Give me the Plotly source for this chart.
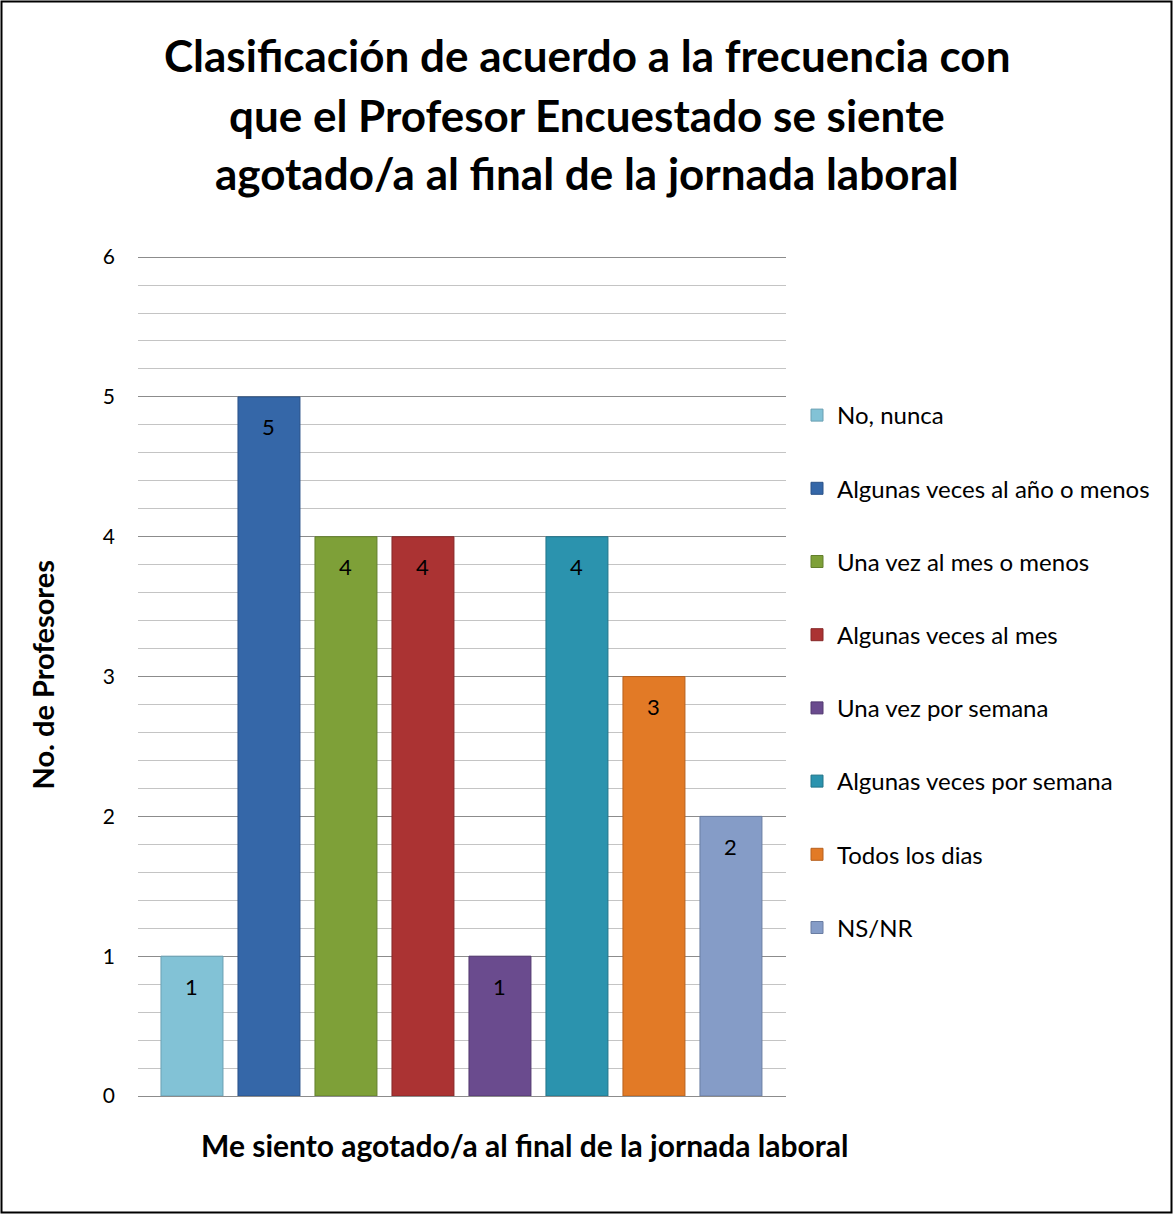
import plotly.graph_objects as go

# ---- data ----
categories = [
    "No, nunca",
    "Algunas veces al año o menos",
    "Una vez al mes o menos",
    "Algunas veces al mes",
    "Una vez por semana",
    "Algunas veces por semana",
    "Todos los dias",
    "NS/NR",
]
values = [1, 5, 4, 4, 1, 4, 3, 2]
colors = ["#82c2d6", "#3567a8", "#7ea038", "#ab3333", "#6a4b8e", "#2b93ae", "#e27a26", "#859cc7"]
edge_colors = ["#6a9fb2", "#2a5288", "#637f2c", "#862828", "#533a70", "#227489", "#b7611e", "#6a7da2"]
title_lines = [
    "Clasificación de acuerdo a la frecuencia con",
    "que el Profesor Encuestado se siente",
    "agotado/a al final de la jornada laboral",
]
x_title = "Me siento agotado/a al final de la jornada laboral"
y_title = "No. de Profesores"
y_ticks = [0, 1, 2, 3, 4, 5, 6]

FONT = "Lato, Carlito, Calibri, sans-serif"

fig = go.Figure()
for i, (cat, val) in enumerate(zip(categories, values)):
    fig.add_trace(go.Bar(
        x=[cat], y=[val], name=cat,
        marker=dict(color=colors[i], line=dict(color=edge_colors[i], width=1)),
        legendgroup=cat,
        showlegend=True,
    ))

# data labels near top of each bar
for cat, val in zip(categories, values):
    fig.add_annotation(x=cat, y=val, xref="x", yref="y", text=str(val),
                       showarrow=False, yshift=-30,
                       font=dict(family=FONT, size=22, color="#000000"))

W, H = 1173, 1214
L, R, T, B = 138, 1173 - 786, 255, 1214 - 1096
pw, ph = W - L - R, H - T - B

def px(xp):
    return (xp - L) / pw

def py(yp):
    return (H - B - yp) / ph

title_y = [55, 115, 173]
for line, yy in zip(title_lines, title_y):
    fig.add_annotation(x=px(587), y=py(yy), xref="paper", yref="paper", text="<b>" + line + "</b>",
                       showarrow=False, xanchor="center", yanchor="middle",
                       font=dict(family=FONT, size=44, color="#000000"))

fig.add_annotation(x=px(524), y=py(1145), xref="paper", yref="paper", text="<b>" + x_title + "</b>",
                   showarrow=False, xanchor="center", yanchor="middle",
                   font=dict(family=FONT, size=30, color="#000000"))
fig.add_annotation(x=px(42), y=0.5, xref="paper", yref="paper", text="<b>" + y_title + "</b>",
                   showarrow=False, xanchor="center", yanchor="middle", textangle=-90,
                   font=dict(family=FONT, size=29, color="#000000"))

fig.add_shape(type="rect", xref="paper", yref="paper",
              x0=px(1.5), x1=px(W - 1.5), y0=py(H - 1.5), y1=py(1.5),
              line=dict(color="#000000", width=2), fillcolor="rgba(0,0,0,0)", layer="above")

fig.update_layout(
    width=W, height=H,
    margin=dict(l=L, r=R, t=T, b=B, autoexpand=False),
    paper_bgcolor="#ffffff", plot_bgcolor="#ffffff",
    barmode="overlay", bargap=0.195,
    font=dict(family=FONT, size=20, color="#000000"),
    showlegend=True,
    legend=dict(x=px(797), y=py(393), xanchor="left", yanchor="top",
                font=dict(family=FONT, size=24, color="#000000"),
                tracegroupgap=39, itemwidth=30, bgcolor="rgba(0,0,0,0)"),
    xaxis=dict(range=[-0.701, 7.715], showticklabels=False, showgrid=False, zeroline=False,
               showline=True, linecolor="#8c8c8c", linewidth=1, ticks=""),
    yaxis=dict(range=[0, 6.015], tickvals=y_ticks, showgrid=True, gridcolor="#8c8c8c", gridwidth=1,
               zeroline=False, showline=False, ticks="", ticklabelstandoff=22,
               tickfont=dict(family=FONT, size=21, color="#000000"),
               minor=dict(dtick=0.2, showgrid=True, gridcolor="#c4c4c4", gridwidth=1)),
)

fig.write_html("out.html", config={"displayModeBar": False},
               post_script="document.body.style.margin='0px';document.body.style.overflow='hidden';")
